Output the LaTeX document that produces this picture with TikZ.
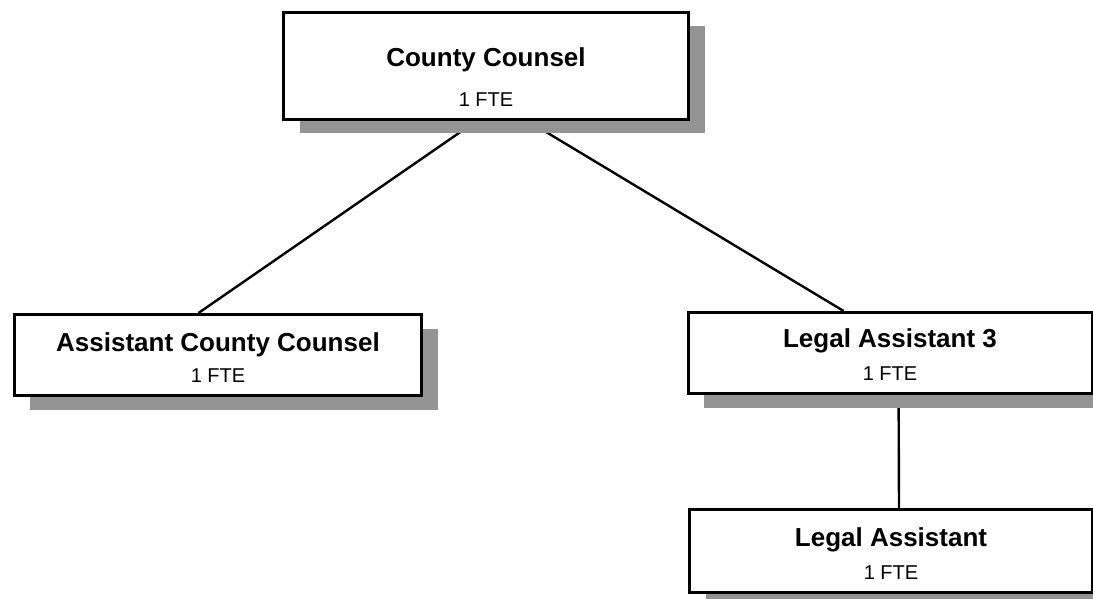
\documentclass[tikz,border=0pt]{standalone}
\usepackage{fontspec}
\setmainfont{Liberation Sans}
\usetikzlibrary{shadows}
\pgfdeclarelayer{bg}
\pgfsetlayers{bg,main}
\begin{document}
\begin{tikzpicture}[x=1pt,y=-1pt,
  box/.style={draw=black, line width=3pt, fill=white, rectangle, inner sep=0pt, anchor=north west,
    drop shadow={shadow xshift=16pt, shadow yshift=-14pt, fill=black!42, opacity=1}},
  link/.style={line width=2.4pt, draw=black},
  nm/.style={anchor=base, inner sep=0pt, font=\fontsize{26}{30}\selectfont\bfseries},
  fte/.style={anchor=base, inner sep=0pt, font=\fontsize{20}{24}\selectfont}]
\useasboundingbox (0,0) rectangle (1093,598);
% boxes
\node[box, minimum width=405pt, minimum height=107pt] (cc) at (282,10.5) {};
\node[box, minimum width=407.5pt, minimum height=81pt] (acc) at (12.5,313) {};
\node[box, minimum width=404.4pt, minimum height=81pt] (la3) at (686.6,311) {};
\node[box, minimum width=403pt, minimum height=83pt] (la) at (688,508) {};
% connectors behind the boxes and their shadows
\begin{pgfonlayer}{bg}
\draw[link] ([xshift=195pt]cc.south west) -- ([xshift=186pt]acc.north west);
\draw[link] ([xshift=245pt]cc.south west) -- ([xshift=157pt]la3.north west);
\draw[link] ([xshift=212pt]la3.south west) -- ([xshift=211pt]la.north west);
\end{pgfonlayer}
% texts
\node[nm] (ccn) at (486,66.7) {County Counsel};
\node[fte] (ccf) at (486,106) {1 FTE};
\node[nm] (accn) at (218,351) {Assistant County Counsel};
\node[fte] (accf) at (218,382.5) {1 FTE};
\node[nm] (la3n) at (890,347.8) {Legal Assistant 3};
\node[fte] (la3f) at (890,380) {1 FTE};
\node[nm] (lan) at (891,546) {Legal Assistant};
\node[fte] (laf) at (891,579.7) {1 FTE};
\end{tikzpicture}
\end{document}
